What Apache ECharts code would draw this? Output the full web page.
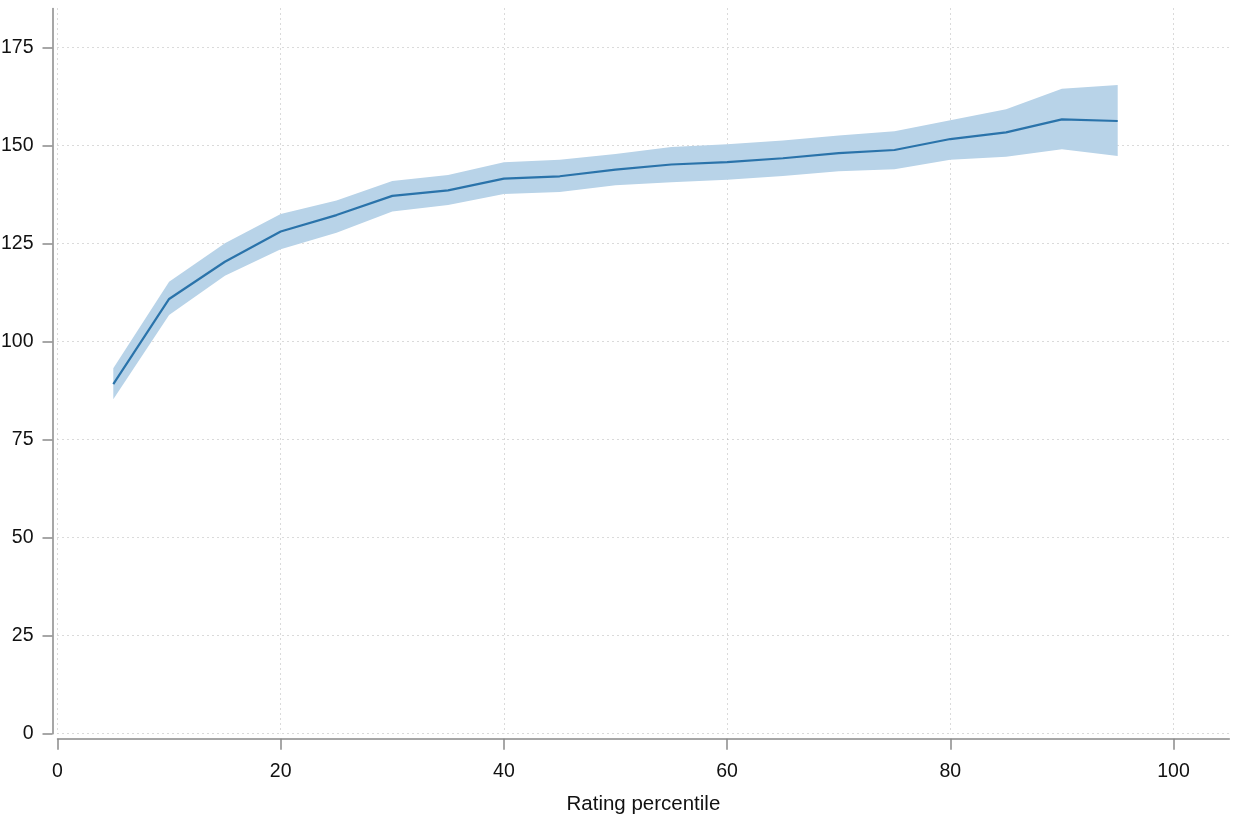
<!DOCTYPE html>
<html>
<head>
<meta charset="utf-8">
<script src="https://cdn.jsdelivr.net/npm/echarts@6/dist/echarts.min.js"></script>
<style>
html,body{margin:0;padding:0;background:#fff;}
#chart{width:1234px;height:814px;}
</style>
</head>
<body>
<div id="chart"></div>
<script>
const percentiles = [5,10,15,20,25,30,35,40,45,50,55,60,65,70,75,80,85,90,95];
const meanValues  = [89.2,110.9,120.4,128.1,132.3,137.2,138.6,141.6,142.2,143.9,145.2,145.8,146.8,148.1,148.9,151.7,153.4,156.7,156.3];
const upperCI     = [93.2,115.3,125.1,132.6,136.0,141.0,142.5,145.8,146.4,147.9,149.7,150.4,151.3,152.6,153.7,156.5,159.3,164.5,165.5];
const lowerCI     = [85.3,106.8,116.8,123.6,127.8,133.2,134.9,137.7,138.2,139.9,140.7,141.3,142.3,143.5,144.0,146.4,147.2,149.1,147.4];
const xTicks = [0,20,40,60,80,100];
const yTicks = [0,25,50,75,100,125,150,175];
const xTitle = 'Rating percentile';

const font = '"Liberation Sans", Arial, sans-serif';
const chart = echarts.init(document.getElementById('chart'), null, {renderer:'canvas'});

const meanData = percentiles.map((x,i)=>[x, meanValues[i]]);
const bandData = percentiles.map((x,i)=>[x, lowerCI[i], upperCI[i]]);

const gridLine = {show:true, lineStyle:{color:'#b4b4b4', width:1, type:[1,4]}};

chart.setOption({
  animation:false,
  backgroundColor:'#ffffff',
  grid:{left:57.5, right:4.7, top:8.5, bottom:80.3, containLabel:false, outerBoundsMode:'none'},
  xAxis:{
    type:'value', min:0, max:105, interval:20, offset:5,
    name:xTitle, nameLocation:'middle', nameGap:55,
    nameTextStyle:{fontFamily:font, fontSize:20.5, color:'#111'},
    axisLine:{show:true, onZero:false, lineStyle:{color:'#8a8a8a', width:1.5}},
    axisTick:{show:true, length:11, customValues:xTicks, lineStyle:{color:'#8a8a8a', width:1.5}},
    axisLabel:{customValues:xTicks, margin:23, fontFamily:font, fontSize:19.5, color:'#111'},
    splitLine:gridLine
  },
  yAxis:{
    type:'value', min:0, max:185, interval:25, offset:5,
    axisLine:{show:true, onZero:false, lineStyle:{color:'#8a8a8a', width:1.5}},
    axisTick:{show:true, length:10, customValues:yTicks, lineStyle:{color:'#8a8a8a', width:1.5}},
    axisLabel:{customValues:yTicks, margin:19, fontFamily:font, fontSize:19.5, color:'#111'},
    splitLine:gridLine
  },
  series:[
    {
      type:'custom', silent:true, z:2,
      data:[0],
      renderItem:function(params, api){
        const top = bandData.map(d=>api.coord([d[0], d[2]]));
        const bot = bandData.slice().reverse().map(d=>api.coord([d[0], d[1]]));
        return {type:'polygon', shape:{points:top.concat(bot)}, style:{fill:'#b8d3e8', stroke:null}};
      }
    },
    {type:'line', data:meanData, symbol:'none', lineStyle:{color:'#2a73aa', width:2.2}, z:5}
  ]
});
</script>
</body>
</html>
